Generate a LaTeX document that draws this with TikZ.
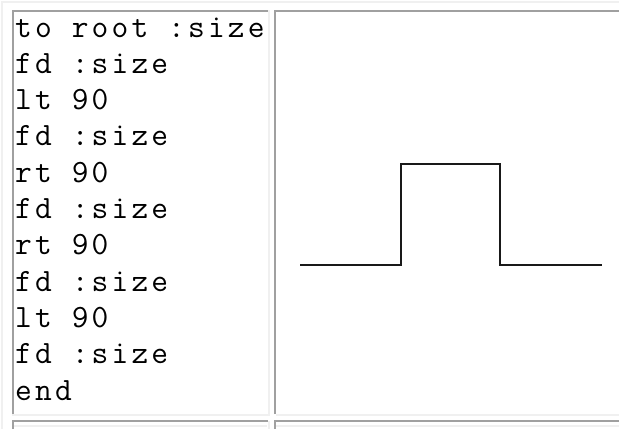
\documentclass[tikz,border=0pt]{standalone}
\usepackage{fontspec}
\setmonofont[LetterSpace=9.8]{Latin Modern Mono}
\definecolor{bordark}{HTML}{A0A0A0}
\definecolor{borlight}{HTML}{F0F0F0}
\begin{document}
\begin{tikzpicture}[x=1pt,y=-1pt,
  darkedge/.style={draw=bordark,line width=2pt},
  lightedge/.style={draw=borlight,line width=2pt},
  codeline/.style={anchor=base west,inner sep=0pt,
    font=\ttfamily\fontsize{32.5}{36.3}\selectfont},
  turtle/.style={draw=black!90,line width=2pt,line join=miter}]
\useasboundingbox[fill=white] (0,0) rectangle (619,429);

% outer table frame (outset)
\draw[lightedge] (2,429) -- (2,2) -- (619,2);

% first row: code cell and drawing cell (inset)
\draw[lightedge] (268.5,10) -- (268.5,414.5) -- (12,414.5);
\draw[darkedge] (13,414) -- (13,10.5) -- (268,10.5);
\draw[lightedge] (276,414.5) -- (619,414.5);
\draw[darkedge] (275,414) -- (275,10.5) -- (619,10.5);

% top of the second row
\draw[darkedge] (13,429) -- (13,421) -- (268,421);
\draw[lightedge] (268.5,421) -- (268.5,429);
\draw[darkedge] (275,429) -- (275,421) -- (619,421);
\draw[lightedge] (14,425.5) -- (267,425.5);
\draw[lightedge] (276,425.5) -- (619,425.5);

% procedure listing
\node[codeline] (l1)  at (15,37.0)  {to root :size};
\node[codeline] (l2)  at (15,73.3)  {fd :size};
\node[codeline] (l3)  at (15,109.6) {lt 90};
\node[codeline] (l4)  at (15,145.9) {fd :size};
\node[codeline] (l5)  at (15,182.2) {rt 90};
\node[codeline] (l6)  at (15,218.5) {fd :size};
\node[codeline] (l7)  at (15,254.8) {rt 90};
\node[codeline] (l8)  at (15,291.1) {fd :size};
\node[codeline] (l9)  at (15,327.4) {lt 90};
\node[codeline] (l10) at (15,363.7) {fd :size};
\node[codeline] (l11) at (15,400.0) {end};

% turtle path drawn by the procedure
\coordinate (p0) at (300,265);
\coordinate (p1) at (400.5,265);
\coordinate (p2) at (400.5,164);
\coordinate (p3) at (500,164);
\coordinate (p4) at (500,265);
\coordinate (p5) at (601.5,265);
\draw[turtle] (p0) -- (p1) -- (p2) -- (p3) -- (p4) -- (p5);
\end{tikzpicture}
\end{document}
